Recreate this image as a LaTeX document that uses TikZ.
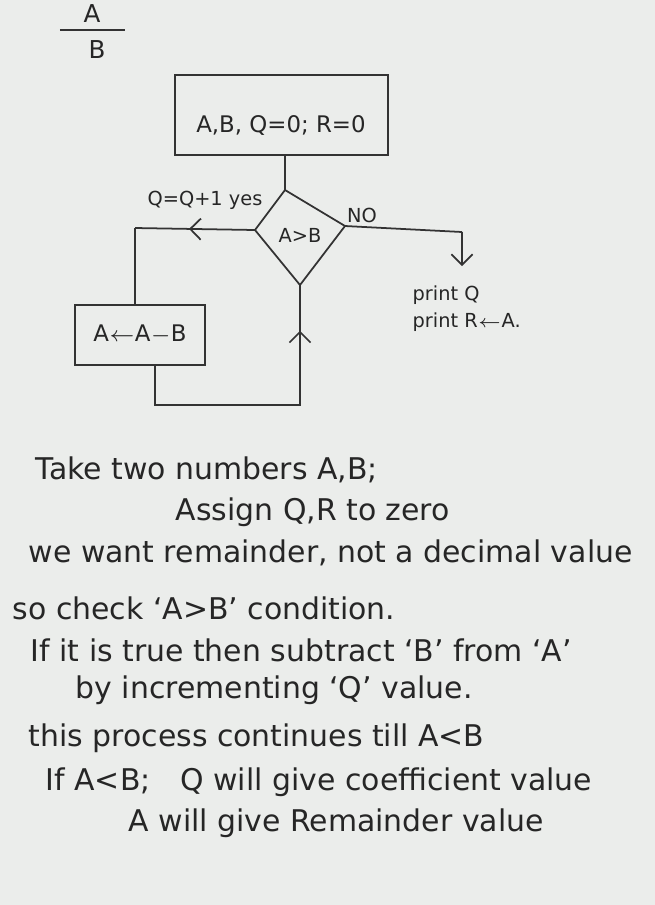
\documentclass[tikz,border=0pt]{standalone}
\usepackage{fontspec}
\setmainfont{DejaVu Sans}
\usetikzlibrary{arrows.meta,decorations.markings}
\begin{document}
\begin{tikzpicture}[x=0.01cm,y=-0.01cm,
  ln/.style={draw=black!80,line width=0.5pt},
  txt/.style={font=\fontsize{8.5}{10}\selectfont,text=black!85,anchor=west,inner sep=0},
  lab/.style={font=\fontsize{5.5}{7}\selectfont,text=black!85,anchor=center,inner sep=0},
  mid/.style={postaction={decorate},decoration={markings,mark=at position #1 with {\arrow{Straight Barb[length=3pt]}}}}]
\fill[green!6!gray!15] (0,0) rectangle (655,905);
\useasboundingbox (0,0) rectangle (655,905);
\node[lab,font=\fontsize{7}{8}\selectfont] (na) at (92,14) {A};
\draw[ln] (60,30) coordinate (f1) -- (125,30) coordinate (f2);
\node[lab,font=\fontsize{7}{8}\selectfont] (nb) at (97,50) {B};
\draw[ln] (175,75) rectangle (388,155);
\node[lab,font=\fontsize{6.5}{8}\selectfont] (initt) at (281,125) {A,B, Q=0; R=0};
\coordinate (s1) at (285,155);
\coordinate (dt) at (285,190); \coordinate (dl) at (255,230);
\coordinate (dr) at (345,226); \coordinate (db) at (300,285);
\draw[ln] (dt) -- (dr) -- (db) -- (dl) -- cycle;
\draw[ln] (s1) -- (dt);
\node[lab] (dtext) at (300,235) {A>B};
\coordinate (c1) at (135,228);
\draw[ln] (75,305) rectangle (205,365);
\node[lab,font=\fontsize{6.5}{8}\selectfont] (sub) at (140,335) {A$\leftarrow$A$-$B};
\coordinate (bt) at (135,305);
\draw[ln,mid=0.55] (dl) -- (c1);
\draw[ln] (c1) -- (bt);
\node[lab] (yes) at (205,200) {Q=Q+1 yes};
\coordinate (b1) at (155,365); \coordinate (b2) at (155,405); \coordinate (b3) at (300,405);
\draw[ln,mid=0.85] (b1) -- (b2) -- (b3) -- (db);
\coordinate (r1) at (462,232); \coordinate (r2) at (462,266);
\draw[ln] (dr) -- (r1);
\draw[ln,-{Straight Barb[length=3pt]}] (r1) -- (r2);
\node[lab] (no) at (362,215) {NO};
\node[lab,anchor=west] (p1) at (412,295) {print Q};
\node[lab,anchor=west] (p2) at (412,322) {print R$\leftarrow$A.};
\node[txt] (t1) at (35,470) {Take two numbers A,B;};
\node[txt] (t2) at (175,512) {Assign Q,R to zero};
\node[txt] (t3) at (28,553) {we want remainder, not a decimal value};
\node[txt] (t4) at (12,608) {so check `A>B' condition.};
\node[txt] (t5) at (30,650) {If it is true then subtract `B' from `A'};
\node[txt] (t6) at (75,690) {by incrementing `Q' value.};
\node[txt] (t7) at (28,738) {this process continues till A<B};
\node[txt] (t8) at (45,782) {If A<B;\quad Q will give coefficient value};
\node[txt] (t9) at (128,823) {A will give Remainder value};
\end{tikzpicture}
\end{document}
